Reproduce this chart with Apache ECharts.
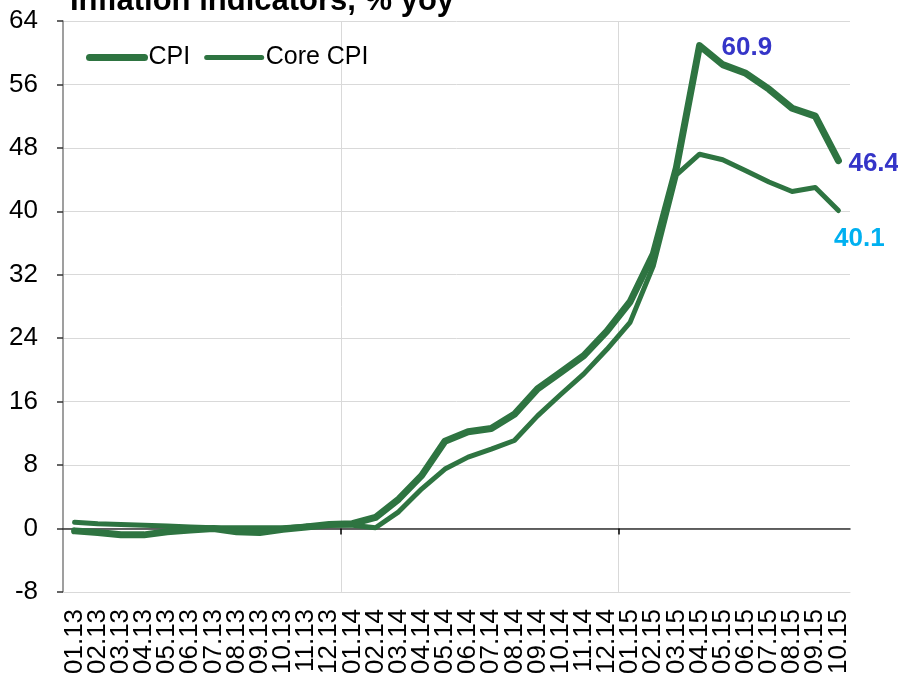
<!DOCTYPE html>
<html>
<head>
<meta charset="utf-8">
<script src="https://cdn.jsdelivr.net/npm/echarts@6/dist/echarts.min.js"></script>
<style>
  html, body { margin: 0; padding: 0; background: #fff; }
  #main { width: 898px; height: 677px; }
</style>
</head>
<body>
<div id="main"></div>
<script type="text/javascript">
// months 01.13 .. 10.15
var months = ['01.13','02.13','03.13','04.13','05.13','06.13','07.13','08.13','09.13','10.13','11.13','12.13',
              '01.14','02.14','03.14','04.14','05.14','06.14','07.14','08.14','09.14','10.14','11.14','12.14',
              '01.15','02.15','03.15','04.15','05.15','06.15','07.15','08.15','09.15','10.15'];
var cpi = [-0.3, -0.5, -0.8, -0.8, -0.4, -0.2, 0.0, -0.4, -0.5, -0.1, 0.2, 0.5,
           0.6, 1.4, 3.7, 6.7, 11.0, 12.2, 12.6, 14.4, 17.6, 19.7, 21.8, 24.9,
           28.6, 34.6, 45.5, 60.9, 58.5, 57.4, 55.4, 53.0, 52.0, 46.4];
var coreCpi = [0.8, 0.6, 0.5, 0.4, 0.3, 0.2, 0.1, 0.1, 0.1, 0.1, 0.3, 0.4,
               0.4, 0.1, 2.1, 5.0, 7.5, 9.0, 10.0, 11.1, 14.2, 16.9, 19.5, 22.6,
               26.0, 33.1, 44.6, 47.2, 46.5, 45.1, 43.7, 42.5, 43.0, 40.1];
var yTicks = { min: -8, max: 64, step: 8 };

var green = '#2e7441';
var font = '"Liberation Sans", Arial, sans-serif';

// helper axis for the zero line and year separators: one slot per month boundary
var bounds = months.concat(['']);
function yearStart(i) { return i === 12 || i === 24; }

var peakIdx = cpi.indexOf(Math.max.apply(null, cpi));
var lastIdx = months.length - 1;

function valueLabel(pos, dist, color, offset) {
    return {
        show: true, position: pos, distance: dist, offset: offset || [0, 0],
        color: color, fontFamily: font, fontSize: 26, fontWeight: 'bold',
        formatter: function (p) { return p.value.toFixed(1); }
    };
}

var chart = echarts.init(document.getElementById('main'));
chart.setOption({
    animation: false,
    title: {
        text: 'Inflation indicators, % yoy',
        left: 65,
        top: -19,
        textStyle: { fontFamily: font, fontSize: 31, fontWeight: 'bold', color: '#000' }
    },
    legend: {
        left: 81,
        top: 40,
        itemWidth: 55,
        itemHeight: 14,
        itemGap: 14,
        itemStyle: { opacity: 0 },
        textStyle: { fontFamily: font, fontSize: 25, color: '#000', padding: [0, 0, 0, -1] },
        data: [
            { name: 'CPI', lineStyle: { width: 7, cap: 'round' } },
            { name: 'Core CPI', lineStyle: { width: 5, cap: 'round' } }
        ]
    },
    grid: { left: 63, right: 48, top: 21, bottom: 84, containLabel: false },
    xAxis: [{
        type: 'category',
        data: months,
        boundaryGap: true,
        axisLine: { onZero: false, lineStyle: { color: '#d9d9d9', width: 1 } },
        axisTick: { show: false },
        axisLabel: { interval: 0, rotate: 90, margin: 17, fontFamily: font, fontSize: 26, color: '#000' },
        splitLine: { show: false }
    }, {
        type: 'category',
        data: bounds,
        position: 'bottom',
        boundaryGap: false,
        axisLine: { onZero: true, lineStyle: { color: '#333', width: 1.5 } },
        axisTick: {
            show: true, length: 6, interval: yearStart,
            lineStyle: { color: '#000', width: 1.5 }
        },
        axisLabel: { show: false },
        splitLine: { show: true, interval: yearStart, lineStyle: { color: '#d9d9d9', width: 1 } }
    }],
    yAxis: {
        type: 'value',
        min: yTicks.min,
        max: yTicks.max,
        interval: yTicks.step,
        axisLine: { show: true, lineStyle: { color: '#7f7f7f', width: 1.5 } },
        axisTick: { show: true, length: 6, lineStyle: { color: '#333', width: 1.5 } },
        axisLabel: { margin: 25, fontFamily: font, fontSize: 26, color: '#000' },
        splitLine: { show: true, lineStyle: { color: '#d9d9d9', width: 1 } }
    },
    series: [{
        name: 'Core CPI',
        type: 'line',
        data: coreCpi,
        symbol: 'none',
        z: 2,
        lineStyle: { color: green, width: 5, cap: 'round', join: 'round' },
        itemStyle: { color: green },
        markPoint: {
            symbol: 'circle', symbolSize: 0, silent: true,
            data: [{ coord: [lastIdx, coreCpi[lastIdx]], value: coreCpi[lastIdx],
                     label: valueLabel('bottom', 15, '#00b0f0', [21, 0]) }]
        }
    }, {
        name: 'CPI',
        type: 'line',
        data: cpi,
        symbol: 'none',
        z: 3,
        lineStyle: { color: green, width: 7, cap: 'round', join: 'round' },
        itemStyle: { color: green },
        markPoint: {
            symbol: 'circle', symbolSize: 0, silent: true,
            data: [
                { coord: [peakIdx, cpi[peakIdx]], value: cpi[peakIdx],
                  label: valueLabel('right', 22, '#3535c8', [0, 2]) },
                { coord: [lastIdx, cpi[lastIdx]], value: cpi[lastIdx],
                  label: valueLabel('right', 10, '#3535c8', [0, 3]) }
            ]
        }
    }]
});
</script>
</body>
</html>
